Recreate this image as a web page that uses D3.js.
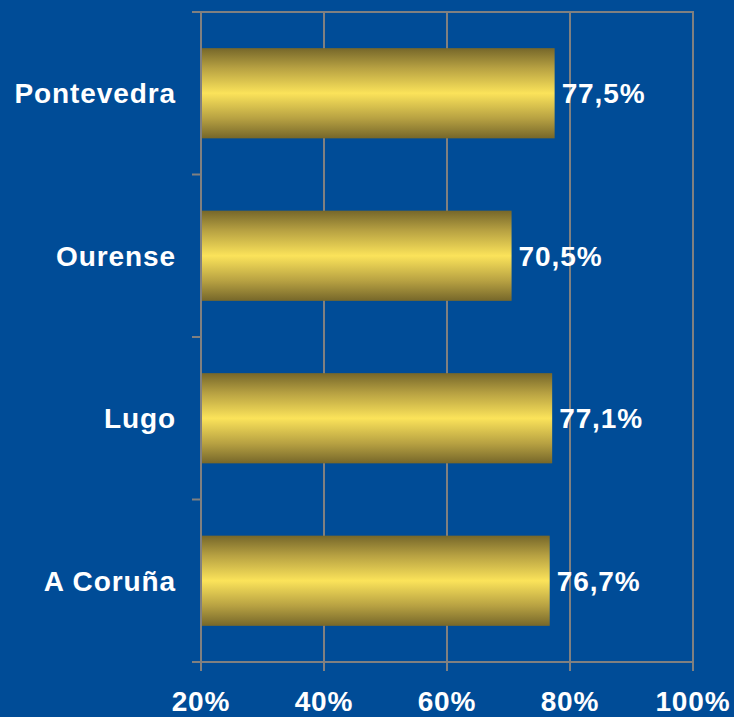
<!DOCTYPE html>
<html><head><meta charset="utf-8">
<script src="https://cdn.jsdelivr.net/npm/d3@7"></script>
<style>html,body{margin:0;padding:0;background:#004C97;}svg{display:block;}</style>
</head><body>
<script>
const categories = ["Pontevedra", "Ourense", "Lugo", "A Coruña"];
const values = [77.5, 70.5, 77.1, 76.7];
const valueLabels = ["77,5%", "70,5%", "77,1%", "76,7%"];
const xTicks = [20, 40, 60, 80, 100];

const W = 734, H = 717;
const m = {left: 201, right: 41, top: 12, bottom: 55};
const svg = d3.select("body").append("svg").attr("width", W).attr("height", H);
svg.append("rect").attr("width", W).attr("height", H).attr("fill", "#004C97");

const x = d3.scaleLinear().domain([20, 100]).range([m.left, W - m.right]);
const y = d3.scaleBand().domain(categories).range([m.top, H - m.bottom]).paddingInner(0.445).paddingOuter(0.2225);
const font = "'Liberation Sans', Arial, sans-serif";
const grid = "#808080";
const fs = 28, ls = 0.9;

const defs = svg.append("defs");
const g = defs.append("linearGradient").attr("id", "gold").attr("x1", 0).attr("y1", 0).attr("x2", 0).attr("y2", 1);
[[0, "#76672A"], [0.22, "#B7A142"], [0.5, "#FBE35A"], [0.78, "#B7A142"], [1, "#76672A"]]
  .forEach(([o, c]) => g.append("stop").attr("offset", o).attr("stop-color", c));

// gridlines
svg.append("g").selectAll("line").data(xTicks).join("line")
  .attr("x1", d => x(d)).attr("x2", d => x(d))
  .attr("y1", m.top).attr("y2", H - m.bottom + 9)
  .attr("stroke", grid).attr("stroke-width", 2);
// top border
svg.append("line").attr("x1", m.left - 9).attr("x2", x(100) + 1).attr("y1", m.top).attr("y2", m.top)
  .attr("stroke", grid).attr("stroke-width", 2);
// bottom axis
svg.append("line").attr("x1", m.left - 9).attr("x2", x(100) + 1).attr("y1", H - m.bottom).attr("y2", H - m.bottom)
  .attr("stroke", grid).attr("stroke-width", 2);
// left axis ticks at band boundaries
const bounds = d3.range(categories.length + 1).map(i => m.top + i * (H - m.top - m.bottom) / categories.length);
svg.append("g").selectAll("line").data(bounds).join("line")
  .attr("x1", m.left - 9).attr("x2", m.left).attr("y1", d => d).attr("y2", d => d)
  .attr("stroke", grid).attr("stroke-width", 2);

// bars
svg.append("g").selectAll("rect").data(categories).join("rect")
  .attr("x", x(20) + 1).attr("y", d => y(d))
  .attr("width", (d, i) => x(values[i]) - x(20) - 1).attr("height", y.bandwidth())
  .attr("fill", "url(#gold)");

// value labels
svg.append("g").selectAll("text").data(categories).join("text")
  .attr("x", (d, i) => x(values[i]) + 7).attr("y", d => y(d) + y.bandwidth() / 2)
  .attr("dy", "0.35em").attr("fill", "#fff").attr("font-family", font)
  .attr("font-weight", "bold").attr("font-size", fs).attr("letter-spacing", ls)
  .text((d, i) => valueLabels[i]);

// category labels
svg.append("g").selectAll("text").data(categories).join("text")
  .attr("x", 176).attr("y", d => y(d) + y.bandwidth() / 2)
  .attr("dy", "0.35em").attr("text-anchor", "end").attr("fill", "#fff")
  .attr("font-family", font).attr("font-weight", "bold").attr("font-size", fs).attr("letter-spacing", ls)
  .text(d => d);

// x tick labels
svg.append("g").selectAll("text").data(xTicks).join("text")
  .attr("x", d => x(d)).attr("y", 711).attr("text-anchor", "middle").attr("fill", "#fff")
  .attr("font-family", font).attr("font-weight", "bold").attr("font-size", fs).attr("letter-spacing", ls)
  .text(d => d + "%");
</script>
</body></html>
